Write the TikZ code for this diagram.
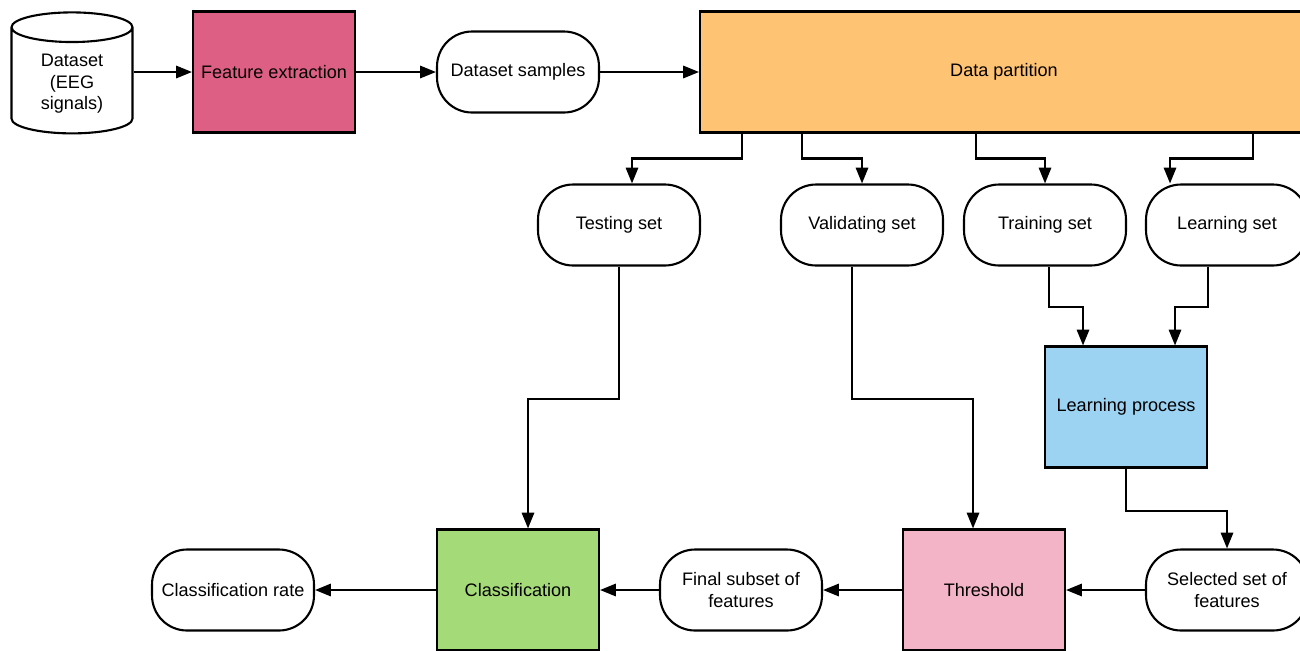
\documentclass[tikz,border=0pt]{standalone}
\usepackage{fontspec}
\setmainfont{Liberation Sans}
\usetikzlibrary{shapes.geometric,arrows.meta,calc}

\definecolor{featcol}{HTML}{DE5F84}
\definecolor{partcol}{HTML}{FFC374}
\definecolor{proccol}{HTML}{9CD3F2}
\definecolor{threscol}{HTML}{F4B4C8}
\definecolor{classcol}{HTML}{A5DA78}

\begin{document}
\begin{tikzpicture}[x=0.02cm, y=-0.02cm,
    font=\fontsize{10.3}{12.3}\selectfont,
    box/.style={draw, line width=1.2pt, minimum width=3.24cm, minimum height=2.42cm, align=center},
    pill/.style={draw, line width=1.2pt, rounded corners=0.7cm, minimum width=3.24cm, minimum height=1.62cm, align=center, fill=white},
    arr/.style={-{Triangle[length=9pt,width=7pt]}, line width=1.2pt}]

% Parameters
\def\drop{25}      % drop below the partition box
\def\mid{132}      % drop below testing / validating sets

% Frame of the picture
\clip[use as bounding box] (0,0) rectangle (1300,650);

% Top row
\node[cylinder, shape border rotate=90, draw, line width=1.2pt, aspect=0.4,
      minimum width=2.42cm, minimum height=2.42cm, align=center, fill=white] (data) at (72,84) {Dataset\\(EEG\\signals)};
\node[box, fill=featcol] (feat) at (274,72) {Feature extraction};
\node[pill] (samp) at (518,72) {Dataset samples};
\node[box, fill=partcol, minimum width=12.16cm] (part) at (1004,72) {Data partition};

% Subsets
\node[pill] (test) at (619,225) {Testing set};
\node[pill] (valid) at (862,225) {Validating set};
\node[pill] (train) at (1045,225) {Training set};
\node[pill] (learn) at (1227,225) {Learning set};

% Learning
\node[box, fill=proccol] (proc) at (1126,407) {Learning process};

% Bottom row
\node[pill] (sel) at (1227,590) {Selected set of\\features};
\node[box, fill=threscol] (thres) at (984,590) {Threshold};
\node[pill] (final) at (741,590) {Final subset of\\features};
\node[box, fill=classcol] (class) at (518,590) {Classification};
\node[pill] (rate) at (233,590) {Classification rate};

% Top row arrows
\draw[arr] (data.east |- feat.west) -- (feat.west);
\draw[arr] (feat.east) -- (samp.west);
\draw[arr] (samp.east) -- (part.west);

% Partition into the subsets
\draw[arr] ($(part.south west)+(43,0)$) -- ++(0,\drop) -| ($(test.north)+(13,0)$);
\draw[arr] ($(part.south west)+(103,0)$) -- ++(0,\drop) -| (valid.north);
\draw[arr] ($(part.south west)+(277,0)$) -- ++(0,\drop) -| (train.north);
\draw[arr] ($(part.south west)+(554,0)$) -- ++(0,\drop) -| ($(learn.north)+(-57,0)$);

% Subsets to the processing steps
\draw[arr] (test.south) -- ++(0,\mid) -| ($(class.north)+(10,0)$);
\draw[arr] ($(valid.south)+(-10,0)$) -- ++(0,\mid) -| ($(thres.north)+(-11,0)$);
\draw[arr] ($(train.south)+(4,0)$) -- ++(0,40) -| ($(proc.north)+(-43,0)$);
\draw[arr] ($(learn.south)+(-19,0)$) -- ++(0,40) -| ($(proc.north)+(49,0)$);
\draw[arr] (proc.south) -- ++(0,42) -| (sel.north);

% Bottom row arrows
\draw[arr] (sel.west) -- (thres.east);
\draw[arr] (thres.west) -- (final.east);
\draw[arr] (final.west) -- (class.east);
\draw[arr] (class.west) -- (rate.east);

\end{tikzpicture}
\end{document}
